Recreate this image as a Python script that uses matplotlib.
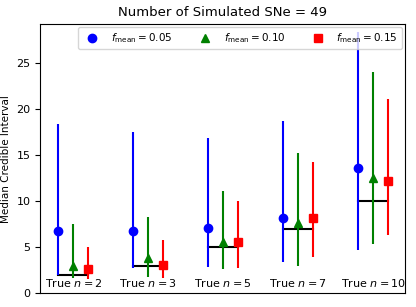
import matplotlib
matplotlib.use("Agg")
import matplotlib.pyplot as plt
from matplotlib.lines import Line2D
import numpy as np

true_n = [2, 3, 5, 7, 10]
f_means = ["0.05", "0.10", "0.15"]

med_05 = [6.7, 6.7, 7.1, 8.2, 13.6]
lo_05 = [2.0, 2.7, 2.8, 3.4, 4.7]
hi_05 = [18.4, 17.5, 16.8, 18.7, 28.3]

med_10 = [3.0, 3.8, 5.6, 7.6, 12.5]
lo_10 = [1.7, 1.8, 2.6, 3.0, 5.3]
hi_10 = [7.5, 8.3, 11.1, 15.2, 24.0]

med_15 = [2.6, 3.1, 5.6, 8.1, 12.2]
lo_15 = [1.5, 1.7, 2.7, 3.9, 6.3]
hi_15 = [5.0, 5.8, 10.0, 14.2, 21.1]

series = [(med_05, lo_05, hi_05, "blue", "o", -0.2),
          (med_10, lo_10, hi_10, "green", "^", 0.0),
          (med_15, lo_15, hi_15, "red", "s", 0.2)]

fig, ax = plt.subplots(figsize=(4.16, 3.07), dpi=100)
x = np.arange(len(true_n))

handles = []
for (med, lo, hi, col, mk, off), fm in zip(series, f_means):
	med = np.array(med)
	yerr = [med - np.array(lo), np.array(hi) - med]
	ax.errorbar(x + off, med, yerr=yerr, fmt=mk, color=col, ms=6, elinewidth=1.5,
		capsize=0)
	handles.append(Line2D([], [], ls="none", marker=mk, color=col, ms=6,
		label=r"$f_{\rm mean} = %s$" % fm))

for i, n in enumerate(true_n):
	ax.plot([i - 0.2, i + 0.2], [n, n], color="black", lw=1.5, zorder=1)
	ax.text(i, 1.1, r"True $n = %d$" % n, ha="center", va="center", fontsize=8)

ax.set_xlim(-0.44, 4.43)
ax.set_ylim(0, 29.2)
ax.set_xticks([])
ax.tick_params(labelsize=8)
ax.set_ylabel("Median Credible Interval", fontsize=7.5)
ax.set_title("Number of Simulated SNe = 49", fontsize=9.5)
ax.legend(handles=handles, loc="upper right", ncol=3, fontsize=7.5, numpoints=1,
	handletextpad=0.8, columnspacing=2.1, borderaxespad=0.3)

plt.subplots_adjust(left=0.097, right=0.974, top=0.922, bottom=0.045)
plt.savefig("out.png", dpi=100)
